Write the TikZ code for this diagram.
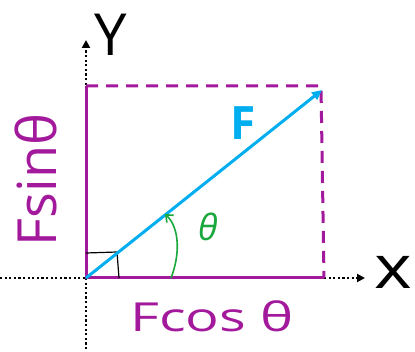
\documentclass[tikz,border=0pt]{standalone}
\usepackage{fontspec}
\setmainfont{Open Sans}
\usetikzlibrary{arrows.meta}
\definecolor{mag}{HTML}{A3199C}
\definecolor{fcyan}{HTML}{00AEEF}
\definecolor{fgreen}{HTML}{1AA83C}
\tikzset{
  axis/.style={black, line width=2.2pt, dash pattern=on 2.2pt off 2.4pt, -{Triangle[length=8pt,width=8pt]}},
  axisplain/.style={black, line width=2.2pt, dash pattern=on 2.2pt off 2.4pt},
  comp/.style={mag, line width=3pt},
  compdash/.style={mag, line width=3pt, dash pattern=on 12pt off 8pt},
  vec/.style={fcyan, line width=3pt, -{Triangle[length=10pt,width=9pt]}},
  lbl/.style={mag, inner sep=0pt},
}
\begin{document}
\begin{tikzpicture}[x=1pt,y=-1pt]
\useasboundingbox (0,0) rectangle (415,352);
\coordinate (O) at (86,278);
\coordinate (yt) at (86,40);
\coordinate (yb) at (86,352);
\coordinate (xl) at (0,278);
\coordinate (xr) at (365,278);
\coordinate (TL) at (86,86);
\coordinate (TR) at (321,86);
\coordinate (BR) at (324,278);
\coordinate (Ftip) at (322,90);
% axes
\draw[axisplain] (xl) -- (O);
\draw[axisplain] (O) -- (yb);
\draw[axis] (O) -- (yt);
\draw[axis] (BR) -- (xr);
% components
\draw[comp] (TL) -- (O) -- (BR);
\draw[compdash] (TL) -- (TR) -- (BR);
% right angle
\draw[black, line width=1.2pt] (86,253) -- (117,252) -- (119,278);
% vector
\draw[vec] (O) -- (Ftip);
% angle
\coordinate (a1) at (171,278);
\coordinate (a2) at (165,214);
\draw[fgreen, line width=1.6pt, -{Straight Barb[length=6pt,width=10pt]}] (a1) .. controls (180,255) and (180,228) .. (a2);
% labels
\node[fcyan, inner sep=0pt, font=\fontsize{46}{46}\selectfont\bfseries] (Flab) at (243,123) {F};
\node[fgreen, inner sep=0pt, font=\fontsize{36}{36}\selectfont\itshape] (th) at (208,227) {θ};
\node[lbl, rotate=90, font=\fontsize{54}{54}\selectfont] (fsin) at (36,180) {Fsinθ};
\node[lbl, font=\fontsize{40}{40}\selectfont] (fcos) at (212,316) {\scalebox{1.4}[1]{Fcos θ}};
\node[black, inner sep=0pt, font=\fontsize{58}{58}\selectfont] (Y) at (111,35) {Y};
\node[black, inner sep=0pt, font=\fontsize{60}{60}\selectfont] (X) at (393,272) {\scalebox{1.2}[1]{x}};
\end{tikzpicture}
\end{document}
